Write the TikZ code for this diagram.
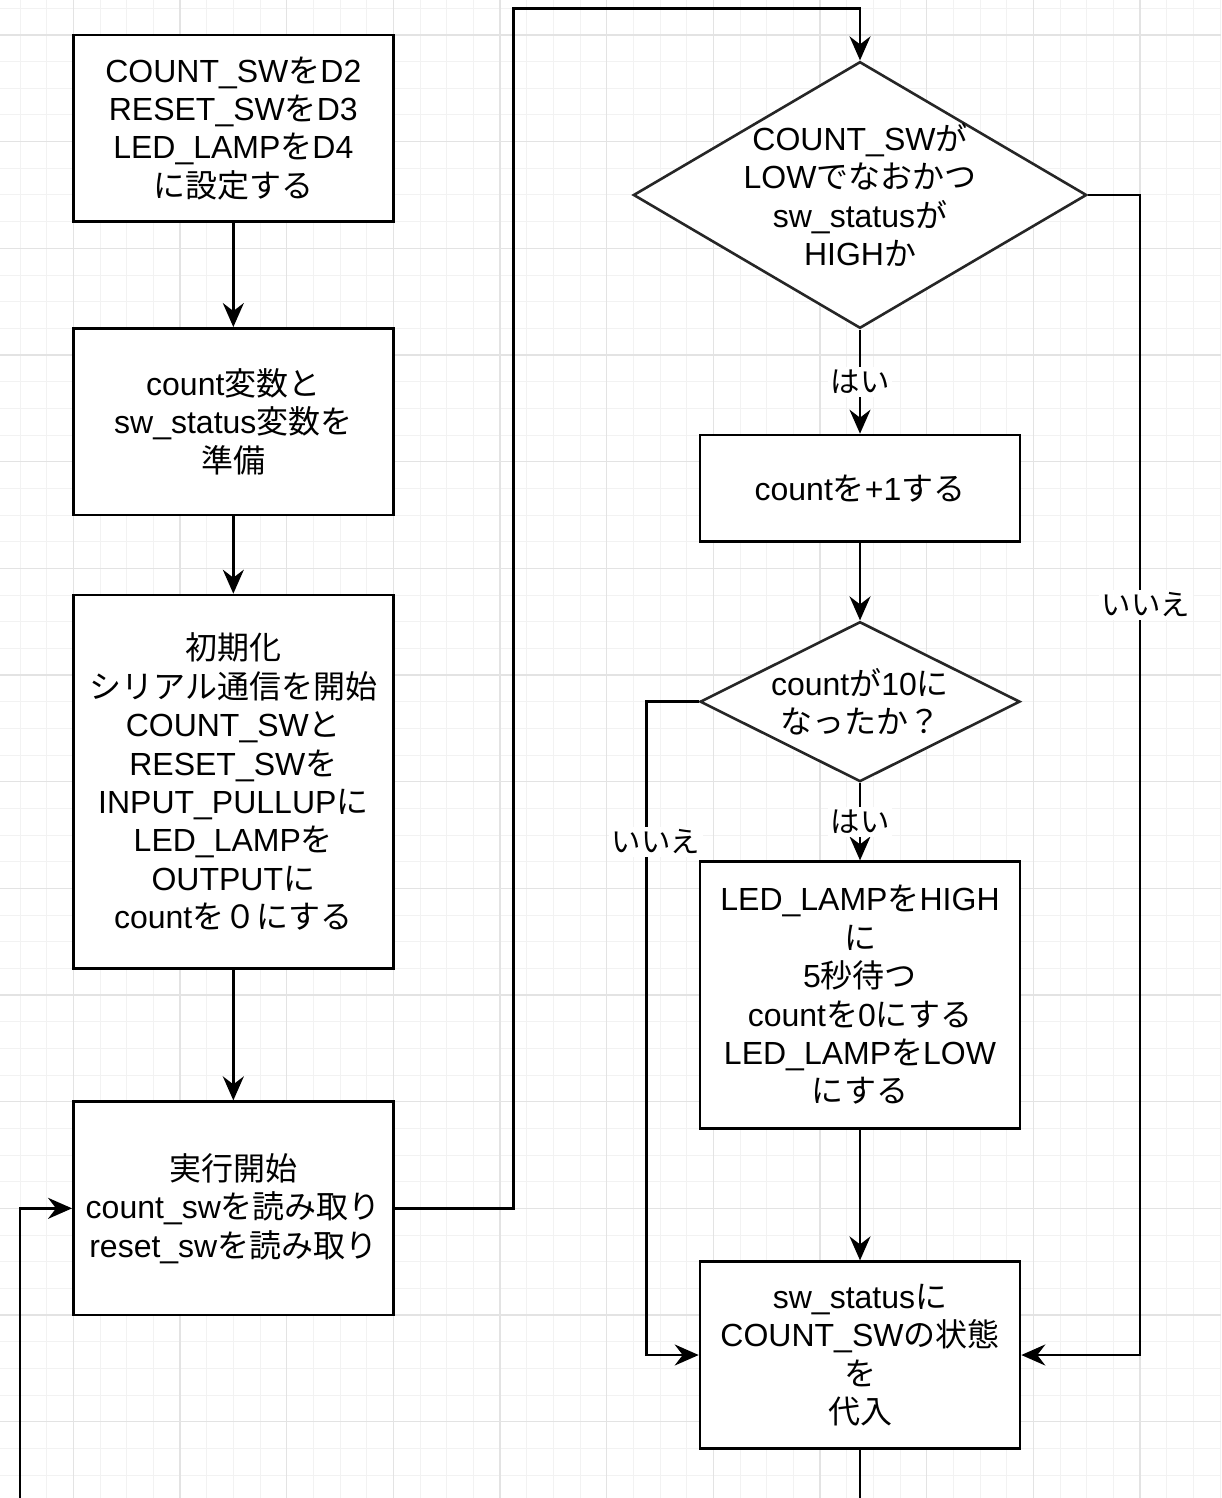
\documentclass[tikz,border=0pt]{standalone}
\usepackage{fontspec}
\setmainfont{Liberation Sans}
\newfontfamily\jpf{Noto Sans CJK JP}
\newcommand\jp[1]{{\jpf #1}}
\usetikzlibrary{arrows.meta,shapes.geometric,calc}
\begin{document}
\begin{tikzpicture}[x=0.5pt,y=-0.5pt,
  minorgrid/.style={draw=black!5,line width=0.5pt},
  majorgrid/.style={draw=black!11,line width=0.6pt},
  stepbox/.style={draw=black,line width=1.3pt,fill=white,rectangle,inner sep=0pt,
    minimum width=160pt,align=center,font=\fontsize{16pt}{19.2pt}\selectfont},
  dia/.style={draw=black!85,line width=1.3pt,fill=white,diamond,inner sep=0pt},
  diatext/.style={inner sep=0pt,align=center,font=\fontsize{16pt}{19.2pt}\selectfont},
  conn/.style={line width=1.3pt,draw=black},
  arr/.style={conn,-{Stealth[length=12pt,width=10.5pt,inset=4pt]}},
  lbl/.style={fill=white,inner sep=1.5pt,font=\fontsize{14.7pt}{17.6pt}\selectfont\jpf}]
\useasboundingbox (0,0) rectangle (1221,1498);
\fill[white] (0,0) rectangle (1221,1498);
% grid
\foreach \i in {0,...,45} \draw[minorgrid] ({20+26.6667*\i},0) -- ({20+26.6667*\i},1498);
\foreach \i in {0,...,55} \draw[minorgrid] (0,{8.3333+26.6667*\i}) -- (1221,{8.3333+26.6667*\i});
\foreach \i in {0,...,10} \draw[majorgrid] ({73.3333+106.6667*\i},0) -- ({73.3333+106.6667*\i},1498);
\foreach \i in {0,...,13} \draw[majorgrid] (0,{35+106.6667*\i}) -- (1221,{35+106.6667*\i});

% left column
\node[stepbox,minimum height=93.33pt] (b1) at (233.33,128.33)
  {COUNT\_SW\jp{を}D2\\RESET\_SW\jp{を}D3\\LED\_LAMP\jp{を}D4\\\jp{に設定する}};
\node[stepbox,minimum height=93.33pt] (b2) at (233.33,421.67)
  {count\jp{変数と}\\sw\_status\jp{変数を}\\\jp{準備}};
\node[stepbox,minimum height=186.67pt] (b3) at (233.33,781.67)
  {\jp{初期化}\\\jp{シリアル通信を開始}\\COUNT\_SW\jp{と}\\RESET\_SW\jp{を}\\INPUT\_PULLUP\jp{に}\\LED\_LAMP\jp{を}\\OUTPUT\jp{に}\\count\jp{を０にする}};
\node[stepbox,minimum height=106.67pt] (b4) at (233.33,1208.33)
  {\jp{実行開始}\\count\_sw\jp{を読み取り}\\reset\_sw\jp{を読み取り}};

% right column
\node[dia,minimum width=226.67pt,minimum height=133.33pt] (d1) at (860,195) {};
\node[diatext] (d1t) at (d1.center) {COUNT\_SW\jp{が}\\LOW\jp{でなおかつ}\\sw\_status\jp{が}\\HIGH\jp{か}};
\node[stepbox,minimum height=53.33pt] (c1) at (860,488.33) {count\jp{を}+1\jp{する}};
\node[dia,minimum width=160pt,minimum height=80pt] (d2) at (860,701.67) {};
\node[diatext] (d2t) at (d2.center) {count\jp{が}10\jp{に}\\\jp{なったか？}};
\node[stepbox,minimum height=133.33pt] (led) at (860,995)
  {LED\_LAMP\jp{を}HIGH\\\jp{に}\\5\jp{秒待つ}\\count\jp{を}0\jp{にする}\\LED\_LAMP\jp{を}LOW\\\jp{にする}};
\node[stepbox,minimum height=93.33pt] (sw) at (860,1355)
  {sw\_status\jp{に}\\COUNT\_SW\jp{の状態}\\\jp{を}\\\jp{代入}};

% helper coordinates
\coordinate (jt) at (513.33,8.33);
\coordinate (rr) at (1140,195);
\coordinate (ll) at (646.67,701.67);
\coordinate (botr) at (860,1505);
\coordinate (botl) at (20,1505);

% connectors
\draw[arr] (b1) -- (b2);
\draw[arr] (b2) -- (b3);
\draw[arr] (b3) -- (b4);
\draw[arr] (b4.east) -| (jt) -| (d1.north);
\draw[arr] (d1.south) -- node[lbl] (y1) {はい} (c1.north);
\draw[arr] (c1.south) -- (d2.north);
\draw[arr] (d2.south) -- node[lbl] (y2) {はい} (led.north);
\draw[arr] (led.south) -- (sw.north);
\draw[arr] (d1.east) -- (rr) |- (sw.east);
\draw[arr] (d2.west) -- (ll) |- (sw.west);
\draw[conn] (sw.south) -- (botr);
\draw[arr] (botl) |- (b4.west);
\node[lbl] (n1) at (1146,605) {いいえ};
\node[lbl] (n2) at (656,842) {いいえ};
\end{tikzpicture}
\end{document}
